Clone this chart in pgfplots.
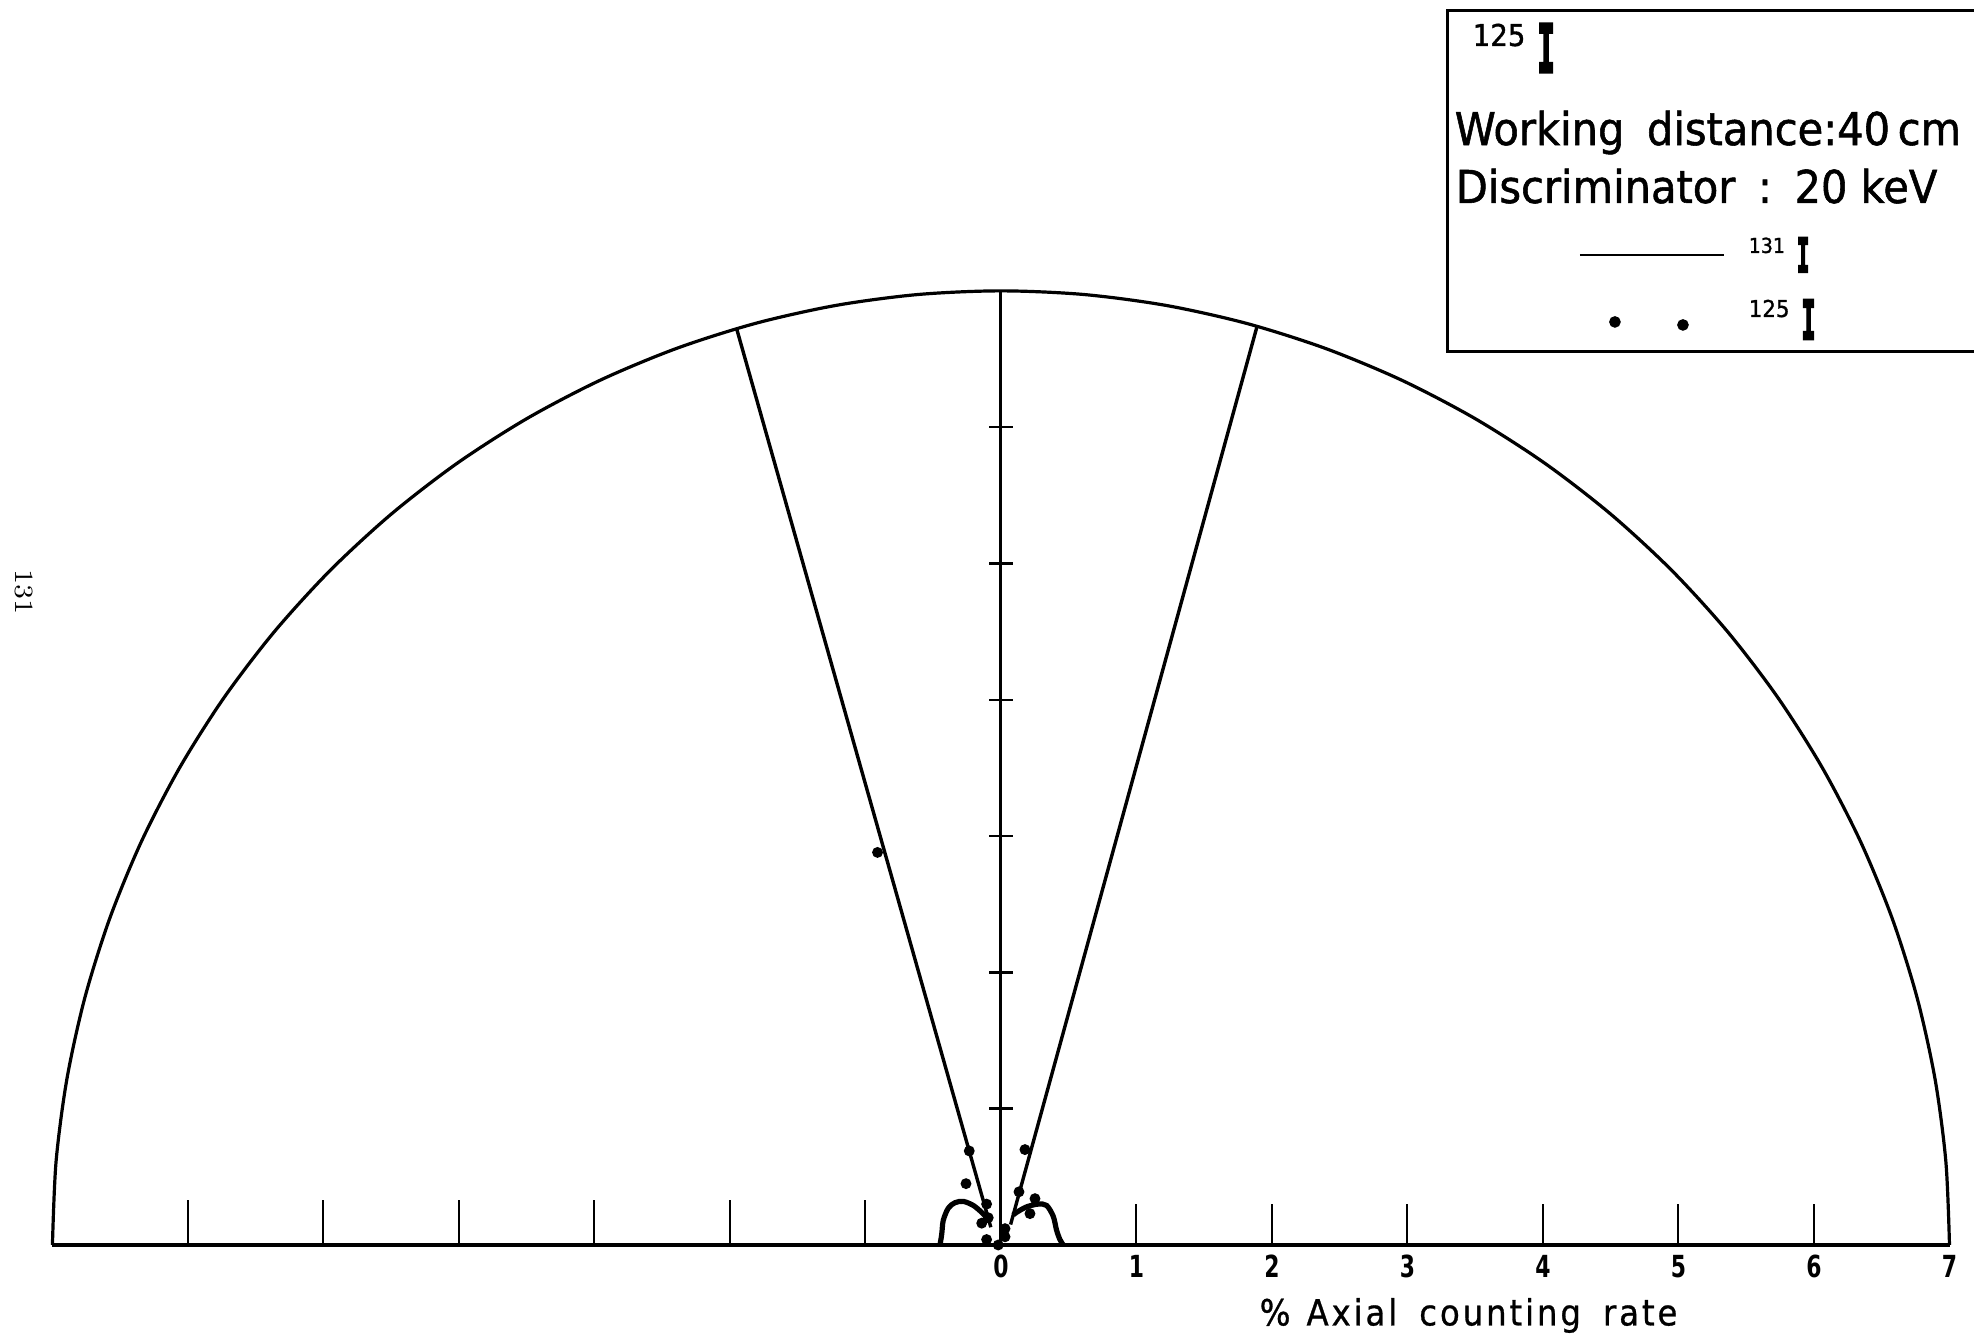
\documentclass[border=0pt]{standalone}
\usepackage{fontspec}
\usepackage{pgfplots}
\pgfplotsset{compat=1.18}

% DIN-like lettering for the labels
\newfontfamily\din[FakeStretch=0.92,FakeBold=1.2]{DejaVu Sans}
\newfontfamily\dinaxis[FakeStretch=0.9,LetterSpace=8,FakeBold=0.8]{DejaVu Sans}
\newfontfamily\dinnum[FakeStretch=0.72]{DejaVu Sans}
\newfontfamily\slabI[FakeBold=5]{DejaVu Sans Mono}

% nuclide symbol: #1 mass number, #2 its font size, #3 its digit height, #4 height of the I
\newcommand{\isotope}[4]{%
  \raisebox{\dimexpr #4-#3\relax}{\fontsize{#2}{#2}\selectfont\din #1}%
  \hspace{3pt}%
  \resizebox{\dimexpr #4*36/100\relax}{#4}{\slabI\bfseries I}}

\begin{document}
\begin{tikzpicture}
\begin{axis}[
  x=33.875pt, y=34.075pt,
  xmin=-7.387, xmax=7.181, ymin=0, ymax=9.134,
  clip=false,
  axis line style={draw=none},
  ytick=\empty,
  xtick={0,1,2,3,4,5,6,7},
  xticklabels={0,1,2,3,4,5,6,7},
  major tick length=0pt,
  xticklabel style={font=\fontsize{7.6}{8}\selectfont\dinnum\bfseries, anchor=center, yshift=-5.4pt, inner sep=0pt},
]

% outer semicircle, radius 7
\addplot[line width=0.8pt, smooth] coordinates {
  (7,0) (6.9734,0.6101) (6.8937,1.2155) (6.7615,1.8117) (6.5778,2.3941)
  (6.3442,2.9583) (6.0622,3.5) (5.7341,4.0150) (5.3623,4.4995) (4.9497,4.9497)
  (4.4995,5.3623) (4.0150,5.7341) (3.5,6.0622) (2.9583,6.3442) (2.3941,6.5778)
  (1.8117,6.7615) (1.2155,6.8937) (0.6101,6.9734) (0,7) (-0.6101,6.9734)
  (-1.2155,6.8937) (-1.8117,6.7615) (-2.3941,6.5778) (-2.9583,6.3442) (-3.5,6.0622)
  (-4.0150,5.7341) (-4.4995,5.3623) (-4.9497,4.9497) (-5.3623,4.4995) (-5.7341,4.0150)
  (-6.0622,3.5) (-6.3442,2.9583) (-6.5778,2.3941) (-6.7615,1.8117) (-6.8937,1.2155)
  (-6.9734,0.6101) (-7,0)
};

% baseline and its ticks
\addplot[line width=1pt] coordinates {(-7,0) (7,0)};
\addplot[ycomb, line width=0.5pt, no marks] coordinates {
  (-6,0.33) (-5,0.33) (-4,0.33) (-3,0.33) (-2,0.33) (-1,0.33)
  (1,0.30) (2,0.30) (3,0.30) (4,0.30) (5,0.30) (6,0.30)
};

% central axis with its ticks
\addplot[line width=0.75pt] coordinates {(0,0) (0,7)};
\addplot[only marks, mark=-, mark size=3pt, mark options={line width=0.6pt}] coordinates {
  (0,1) (0,2) (0,3) (0,4) (0,5) (0,6)
};

% 131I response: two lobes
\addplot[line width=0.85pt] coordinates {(-1.95,6.72) (-0.075,0.13)};
\addplot[line width=0.85pt] coordinates {(1.89,6.74) (0.071,0.15)};
\addplot[line width=1.3pt, smooth] coordinates {
  (-0.45,0.0) (-0.437,0.08) (-0.426,0.18) (-0.389,0.27) (-0.34,0.31)
  (-0.278,0.32) (-0.204,0.29) (-0.143,0.24) (-0.105,0.20)
};
\addplot[line width=1.3pt, smooth] coordinates {
  (0.09,0.22) (0.116,0.24) (0.19,0.28) (0.275,0.30) (0.337,0.29)
  (0.386,0.21) (0.41,0.11) (0.435,0.04) (0.46,0.0)
};

% 125I measurements
\addplot[only marks, mark=*, mark size=1.15pt] coordinates {
  (-0.234,0.69) (-0.258,0.45) (-0.106,0.30) (-0.094,0.20) (-0.142,0.16)
  (-0.106,0.04) (-0.02,0.0) (0.03,0.12) (0.03,0.06) (0.133,0.39)
  (0.177,0.70) (0.251,0.34) (0.214,0.23) (-0.911,2.88)
};

% key box
\addplot[line width=0.75pt] coordinates {(7.5,9.054) (3.295,9.054) (3.295,6.552) (7.5,6.552)};
\addplot[line width=0.6pt] coordinates {(4.273,7.263) (5.336,7.263)};
\addplot[only marks, mark=*, mark size=1.25pt] coordinates {(4.531,6.772) (5.033,6.750)};

\node[anchor=base west, inner sep=0pt] at (axis cs:3.476,8.606) {\isotope{125}{7.5}{5.5pt}{12pt}};
\node[anchor=base west, inner sep=0pt] at (axis cs:3.343,8.070)
  {\fontsize{11.3}{13}\selectfont\din Working\hspace{0.5em}distance:40\,cm};
\node[anchor=base west, inner sep=0pt] at (axis cs:3.351,7.645)
  {\fontsize{11.3}{13}\selectfont\din Discriminator\hspace{0.5em}:\hspace{0.5em}20 keV};
\node[anchor=base west, inner sep=0pt] at (axis cs:5.513,7.139) {\isotope{131}{5.15}{3.75pt}{8.5pt}};
\node[anchor=base west, inner sep=0pt] at (axis cs:5.513,6.647) {\isotope{125}{5.8}{4.25pt}{9.75pt}};

% axis title
\node[anchor=base west, inner sep=0pt] at (axis cs:1.904,-0.59)
  {\fontsize{9}{10}\selectfont\dinaxis\%\hspace{4pt}Axial\hspace{5.5pt}counting\hspace{5.5pt}rate};

% page number at the margin
\node[rotate=-90, inner sep=0pt, font=\fontsize{6.6}{7}\selectfont\rmfamily] at (axis cs:-7.21,4.79) {131};

\coordinate (bbll) at (axis cs:-7.387,-0.668);
\coordinate (bbur) at (axis cs:7.181,9.134);
\end{axis}
\pgfresetboundingbox
\useasboundingbox (bbll) rectangle (bbur);
\end{tikzpicture}
\end{document}
